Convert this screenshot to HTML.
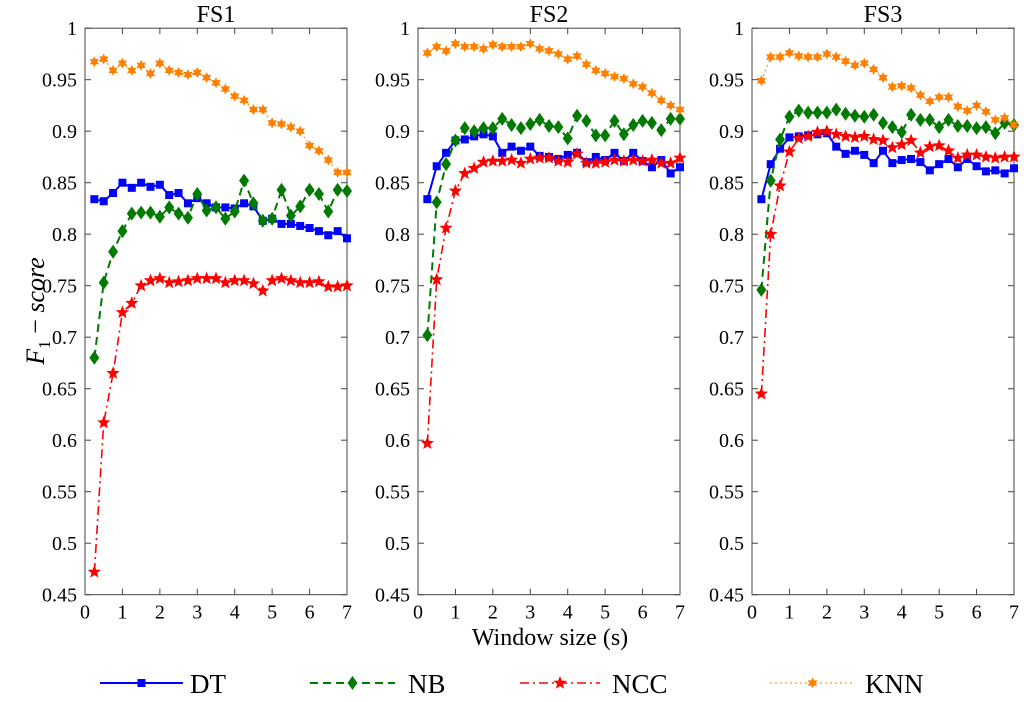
<!DOCTYPE html>
<html><head><meta charset="utf-8"><style>
body{margin:0;background:#fff;width:1024px;height:697px;overflow:hidden}
text{font-family:"Liberation Serif",serif;fill:#000}
</style></head><body>
<svg id="chart" width="1024" height="697" xmlns="http://www.w3.org/2000/svg"></svg>
<script>
const panels = ["FS1","FS2","FS3"];
const xTicks = [0,1,2,3,4,5,6,7];
const yTicks = [0.45,0.5,0.55,0.6,0.65,0.7,0.75,0.8,0.85,0.9,0.95,1];
const yTickLabels = ["0.45","0.5","0.55","0.6","0.65","0.7","0.75","0.8","0.85","0.9","0.95","1"];
const windowSizes = [0.25,0.5,0.75,1,1.25,1.5,1.75,2,2.25,2.5,2.75,3,3.25,3.5,3.75,4,4.25,4.5,4.75,5,5.25,5.5,5.75,6,6.25,6.5,6.75,7];
const seriesNames = ["DT","NB","NCC","KNN"];
const dtFS1 = [0.834,0.832,0.84,0.85,0.845,0.85,0.846,0.848,0.838,0.84,0.83,0.835,0.83,0.826,0.826,0.825,0.83,0.827,0.813,0.815,0.81,0.81,0.808,0.806,0.803,0.799,0.803,0.796];
const nbFS1 = [0.68,0.753,0.783,0.803,0.82,0.821,0.821,0.817,0.826,0.82,0.816,0.839,0.823,0.826,0.815,0.822,0.852,0.83,0.813,0.815,0.843,0.818,0.827,0.843,0.839,0.822,0.843,0.842];
const nccFS1 = [0.472,0.617,0.665,0.724,0.733,0.75,0.755,0.757,0.753,0.754,0.755,0.757,0.757,0.757,0.753,0.755,0.755,0.752,0.745,0.755,0.757,0.755,0.753,0.753,0.754,0.749,0.749,0.75];
const knnFS1 = [0.9675,0.97,0.959,0.966,0.959,0.964,0.956,0.966,0.959,0.957,0.955,0.957,0.952,0.947,0.941,0.934,0.93,0.921,0.921,0.908,0.907,0.904,0.9,0.886,0.881,0.872,0.86,0.86];
const dtFS2 = [0.834,0.866,0.879,0.891,0.892,0.895,0.897,0.895,0.879,0.885,0.881,0.885,0.876,0.875,0.873,0.877,0.879,0.87,0.875,0.872,0.879,0.871,0.879,0.871,0.865,0.872,0.859,0.865];
const nbFS2 = [0.702,0.831,0.868,0.891,0.903,0.9,0.903,0.903,0.912,0.906,0.903,0.907,0.911,0.905,0.904,0.893,0.915,0.91,0.896,0.896,0.91,0.897,0.906,0.91,0.908,0.901,0.912,0.912];
const nccFS2 = [0.597,0.756,0.806,0.842,0.859,0.864,0.87,0.871,0.871,0.872,0.869,0.873,0.874,0.874,0.871,0.87,0.878,0.869,0.869,0.87,0.872,0.871,0.872,0.871,0.872,0.869,0.869,0.874];
const knnFS2 = [0.976,0.982,0.978,0.985,0.982,0.982,0.98,0.984,0.982,0.982,0.982,0.985,0.98,0.978,0.975,0.97,0.973,0.965,0.959,0.956,0.953,0.951,0.946,0.943,0.937,0.93,0.925,0.921];
const dtFS3 = [0.834,0.868,0.883,0.894,0.895,0.896,0.897,0.898,0.885,0.878,0.881,0.877,0.869,0.881,0.869,0.872,0.873,0.87,0.862,0.868,0.873,0.865,0.873,0.866,0.861,0.862,0.859,0.864];
const nbFS3 = [0.746,0.852,0.892,0.914,0.92,0.918,0.918,0.918,0.921,0.917,0.915,0.914,0.916,0.908,0.904,0.899,0.916,0.911,0.911,0.904,0.911,0.905,0.905,0.903,0.904,0.898,0.908,0.906];
const nccFS3 = [0.645,0.8,0.847,0.88,0.893,0.895,0.899,0.9,0.897,0.895,0.894,0.895,0.892,0.891,0.884,0.887,0.891,0.879,0.885,0.886,0.881,0.874,0.877,0.877,0.875,0.874,0.875,0.875];
const knnFS3 = [0.949,0.972,0.972,0.976,0.973,0.972,0.972,0.975,0.972,0.968,0.964,0.966,0.96,0.952,0.943,0.944,0.942,0.935,0.929,0.933,0.933,0.924,0.92,0.925,0.919,0.911,0.913,0.906];

const panelData = [[dtFS1,nbFS1,nccFS1,knnFS1],[dtFS2,nbFS2,nccFS2,knnFS2],[dtFS3,nbFS3,nccFS3,knnFS3]];
const colors = ["#0000ff","#007a00","#ff0000","#ff8000"];
const dashes = ["", "8,5", "9,4,2,4", "2,3"];
const widths = [2,2,1.6,1];
const boxes = [[85,347],[418,680],[752,1014]];
const plotTop = 28.2, plotBottom = 594.7;
const svg = document.getElementById('chart');
const NS = "http://www.w3.org/2000/svg";
function mk(tag, attrs, parent){const e=document.createElementNS(NS,tag);for(const k in attrs)e.setAttribute(k,attrs[k]);(parent||svg).appendChild(e);return e;}
function yS(v){return plotBottom-(v-0.45)/0.55*(plotBottom-plotTop);}
function starPts(cx,cy,n,ro,ri){let p=[];for(let i=0;i<2*n;i++){const a=-Math.PI/2+i*Math.PI/n;const r=i%2?ri:ro;p.push((cx+r*Math.cos(a)).toFixed(1)+","+(cy+r*Math.sin(a)).toFixed(1));}return p.join(" ");}
function marker(s,x,y,g){
  let e;
  if(s===0) e=mk('rect',{x:x-4,y:y-4,width:8,height:8,fill:colors[0]},g);
  else if(s===1) e=mk('polygon',{points:`${x},${y-7} ${x+5},${y} ${x},${y+7} ${x-5},${y}`,fill:colors[1]},g);
  else if(s===2) e=mk('polygon',{points:starPts(x,y,5,7,3),fill:colors[2]},g);
  else e=mk('polygon',{points:starPts(x,y,6,5.5,3),fill:colors[3]},g);
  return e;
}
panels.forEach((name,pi)=>{
  const [x0,x1]=boxes[pi];
  const xS=v=>x0+v/7*(x1-x0);
  const g=mk('g',{});
  
  
  const t=mk('text',{x:(x0+x1)/2,y:22,'text-anchor':'middle','font-size':24},g);t.textContent=name;
  
  
  xTicks.forEach(v=>{
    const x=xS(v);
    mk('line',{x1:x,x2:x,y1:plotBottom,y2:plotBottom-6,stroke:'#444'},g);
    mk('line',{x1:x,x2:x,y1:plotTop,y2:plotTop+6,stroke:'#444'},g);
    const l=mk('text',{x:x,y:plotBottom+24,'text-anchor':'middle','font-size':20},g);l.textContent=v;
    
    
  });
  yTicks.forEach((v,i)=>{
    const y=yS(v);
    mk('line',{x1:x0,x2:x0+6,y1:y,y2:y,stroke:'#444'},g);
    mk('line',{x1:x1,x2:x1-6,y1:y,y2:y,stroke:'#444'},g);
    const l=mk('text',{x:x0-8,y:y+7,'text-anchor':'end','font-size':20},g);l.textContent=yTickLabels[i];
    
    
  });
  const box=mk('rect',{x:x0,y:plotTop,width:x1-x0,height:plotBottom-plotTop,fill:'none',stroke:'#444','stroke-width':1},g);
  
  
  panelData[pi].forEach((vals,si)=>{
    const sg=mk('g',{},g);
    
    
    const pts=vals.map((v,i)=>xS(windowSizes[i]).toFixed(1)+","+yS(v).toFixed(1)).join(" ");
    const pl=mk('polyline',{points:pts,fill:'none',stroke:colors[si],'stroke-width':widths[si],'stroke-dasharray':dashes[si]},sg);
    
    
    vals.forEach((v,i)=>{
      const m=marker(si,xS(windowSizes[i]),yS(v),sg);
      
      
    });
  });
});
const xt=mk('text',{x:550,y:645,'text-anchor':'middle','font-size':24});xt.textContent="Window size (s)";


const yt=mk('text',{transform:'translate(44,311) rotate(-90)','text-anchor':'middle','font-size':26,'font-style':'italic'});
yt.innerHTML='F<tspan font-size="17" dy="6" font-style="normal">1</tspan><tspan dy="-6" font-style="normal"> − </tspan>score';


const legX=[[100,183,190],[310,395,408],[520,600,612],[770,855,865]];
seriesNames.forEach((n,si)=>{
  const g=mk('g',{});
  
  
  const [a,b,c]=legX[si];
  mk('line',{x1:a,x2:b,y1:683,y2:683,stroke:colors[si],'stroke-width':widths[si],'stroke-dasharray':dashes[si]},g);
  marker(si,(a+b)/2,683,g);
  const t=mk('text',{x:c,y:693,'font-size':27},g);t.textContent=n;
});
</script>
</body></html>
